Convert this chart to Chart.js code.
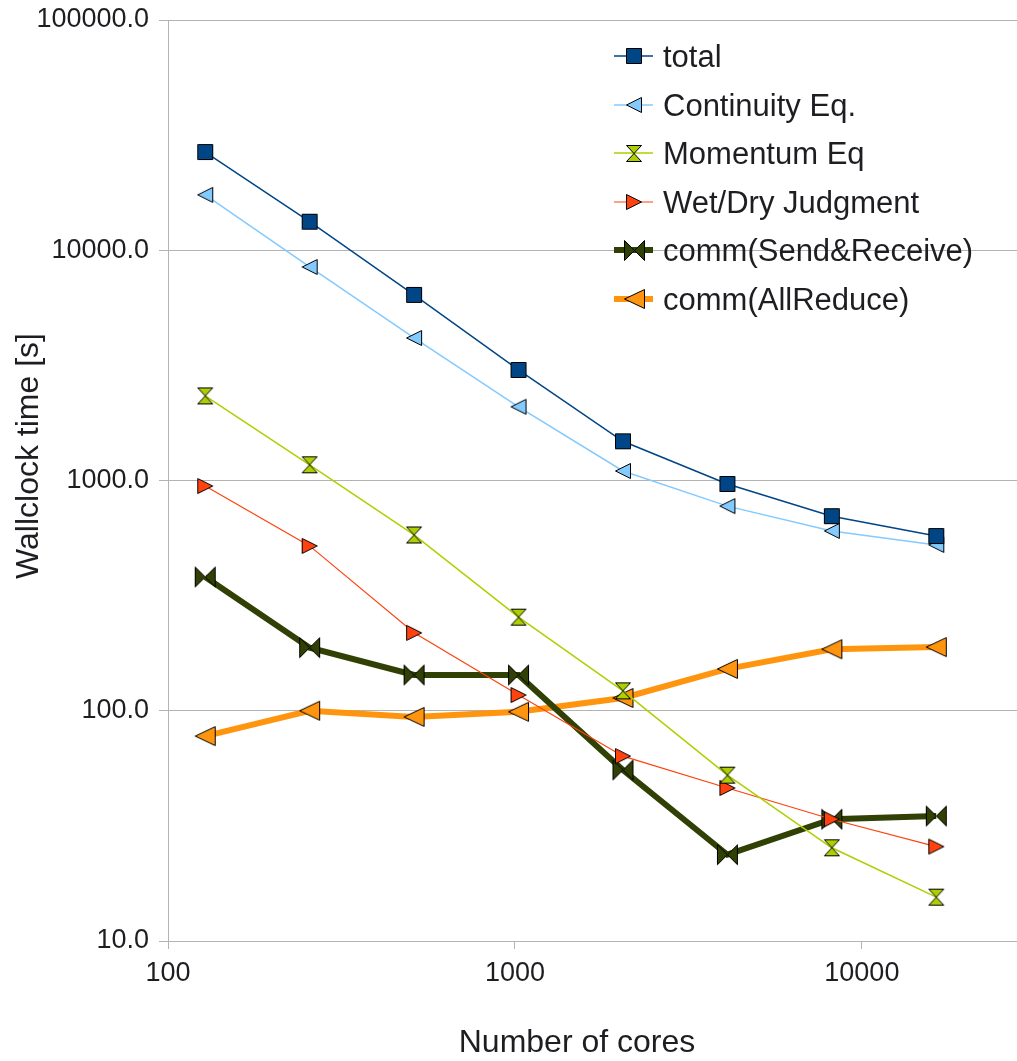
<!DOCTYPE html>
<html>
<head>
<meta charset="utf-8">
<title>Wallclock time vs. number of cores</title>
<script src="https://cdn.jsdelivr.net/npm/chart.js@4.4.0/dist/chart.umd.min.js"></script>
<style>
  html, body { margin: 0; padding: 0; background: #ffffff; }
  canvas { display: block; }
</style>
</head>
<body>
<canvas id="chart" width="1017" height="1061"></canvas>
<script>
// Core counts (x) and measured wallclock times in seconds (y)
const cores = [128, 256, 512, 1024, 2048, 4096, 8192, 16384];

const total       = [26700, 13300, 6400, 3020, 1480, 966, 700, 574];
const continuity  = [17400, 8460, 4160, 2090, 1100, 774, 604, 525];
const momentum    = [2330, 1170, 580, 255, 122, 52.5, 25.4, 15.5];
const wetDry      = [946, 520, 218, 117, 63.5, 46.2, 33.8, 25.7];
const sendRecv    = [381, 188, 143, 143, 55.3, 23.7, 33.8, 34.9];
const allReduce   = [77.6, 100, 94, 99, 113.6, 152, 185, 189];

const seriesNames = ['total', 'Continuity Eq.', 'Momentum Eq', 'Wet/Dry Judgment',
                     'comm(Send&Receive)', 'comm(AllReduce)'];

const xTicks = [100, 1000, 10000];
const yTicks = [10, 100, 1000, 10000, 100000];

const FONT = "'Liberation Sans', Arial, sans-serif";
const TEXT = '#1e1e22';
const GRID = '#b3b3b3';

// Small canvases used as point markers
function marker(shape, w, h, fill) {
  const c = document.createElement('canvas');
  c.width = w + 2; c.height = h + 2;
  const g = c.getContext('2d');
  g.translate(1, 1);
  g.beginPath();
  const r = w - 0.5, b = h - 0.5, mx = w / 2, my = h / 2;
  switch (shape) {
    case 'square':
      g.rect(0.5, 0.5, w - 1, h - 1); break;
    case 'triLeft':
      g.moveTo(r, 0.5); g.lineTo(0.5, my); g.lineTo(r, b); g.closePath(); break;
    case 'triRight':
      g.moveTo(0.5, 0.5); g.lineTo(r, my); g.lineTo(0.5, b); g.closePath(); break;
    case 'hourglass':
      g.moveTo(0.5, 0.5); g.lineTo(r, 0.5); g.lineTo(mx, my);
      g.lineTo(r, b); g.lineTo(0.5, b); g.lineTo(mx, my); g.closePath(); break;
    case 'bowtie':
      g.moveTo(0.5, 0.5); g.lineTo(mx, my); g.lineTo(r, 0.5);
      g.lineTo(r, b); g.lineTo(mx, my); g.lineTo(0.5, b); g.closePath(); break;
  }
  g.fillStyle = fill; g.fill();
  g.lineJoin = 'miter';
  g.strokeStyle = '#000'; g.lineWidth = 1; g.stroke();
  return c;
}

const styles = [
  { color: '#004586', width: 1.5, pt: marker('square', 16, 16, '#004586') },
  { color: '#83caff', width: 1.5, pt: marker('triLeft', 16, 16, '#83caff') },
  { color: '#aecf00', width: 1.5, pt: marker('hourglass', 16, 17, '#aecf00') },
  { color: '#ff420e', width: 1.2, pt: marker('triRight', 16, 16, '#ff420e') },
  { color: '#314004', width: 6,   pt: marker('bowtie', 21, 21, '#314004') },
  { color: '#ff950e', width: 6,   pt: marker('triLeft', 21, 20, '#ff950e') }
];

const values = [total, continuity, momentum, wetDry, sendRecv, allReduce];

const datasets = values.map((vals, i) => ({
  label: seriesNames[i],
  data: cores.map((c, k) => ({ x: c, y: vals[k] })),
  borderColor: styles[i].color,
  borderWidth: styles[i].width,
  pointStyle: styles[i].pt,
  pointRadius: 8,
  pointHoverRadius: 8,
  tension: 0,
  fill: false
}));

// Axis titles and the legend (line sample + marker + label)
const decorations = {
  id: 'decorations',
  afterDraw(chart) {
    const ctx = chart.ctx;
    ctx.save();
    ctx.fillStyle = TEXT;
    ctx.font = '32px ' + FONT;
    ctx.textAlign = 'center';
    ctx.textBaseline = 'alphabetic';
    ctx.fillText('Number of cores', 577, 1052);

    ctx.save();
    ctx.translate(38, 456);
    ctx.rotate(-Math.PI / 2);
    ctx.fillText('Wallclock time [s]', 0, 0);
    ctx.restore();

    const top = 56, step = 48.6;
    ctx.textAlign = 'left';
    ctx.textBaseline = 'middle';
    ctx.font = '31px ' + FONT;
    seriesNames.forEach((name, i) => {
      const y = Math.round(top + i * step);
      ctx.strokeStyle = styles[i].color;
      ctx.lineWidth = styles[i].width;
      ctx.beginPath();
      ctx.moveTo(614, y); ctx.lineTo(653, y);
      ctx.stroke();
      const p = styles[i].pt;
      ctx.drawImage(p, Math.round(634 - p.width / 2), Math.round(y - p.height / 2));
      ctx.fillStyle = TEXT;
      ctx.fillText(name, 663, y + 2);
    });
    ctx.restore();
  }
};

new Chart(document.getElementById('chart'), {
  type: 'line',
  data: { datasets },
  options: {
    responsive: false,
    animation: false,
    devicePixelRatio: 1,
    layout: { autoPadding: false, padding: { top: 20, right: 0, left: 0, bottom: 0 } },
    plugins: {
      legend: { display: false },
      tooltip: { enabled: false },
      title: { display: false }
    },
    scales: {
      x: {
        type: 'logarithmic',
        min: 100,
        max: 28000,
        afterBuildTicks: s => { s.ticks = xTicks.map(v => ({ value: v })); },
        afterFit: s => { s.height = 120; s.paddingLeft = 0; s.paddingRight = 0; },
        grid: { drawOnChartArea: false, color: GRID, tickLength: 8, lineWidth: 1 },
        border: { color: GRID, width: 1 },
        ticks: {
          font: { family: FONT, size: 27 },
          color: TEXT,
          padding: 8,
          maxRotation: 0,
          autoSkip: false,
          callback: v => String(v)
        }
      },
      y: {
        type: 'logarithmic',
        min: 10,
        max: 100000,
        afterBuildTicks: s => { s.ticks = yTicks.map(v => ({ value: v })); },
        afterFit: s => { s.width = 168; s.paddingTop = 0; s.paddingBottom = 0; },
        grid: { color: GRID, tickLength: 9, lineWidth: 1 },
        border: { color: GRID, width: 1 },
        ticks: {
          font: { family: FONT, size: 27 },
          color: TEXT,
          padding: 10,
          autoSkip: false,
          callback: v => Number(v).toFixed(1)
        }
      }
    }
  },
  plugins: [decorations]
});
</script>
</body>
</html>
